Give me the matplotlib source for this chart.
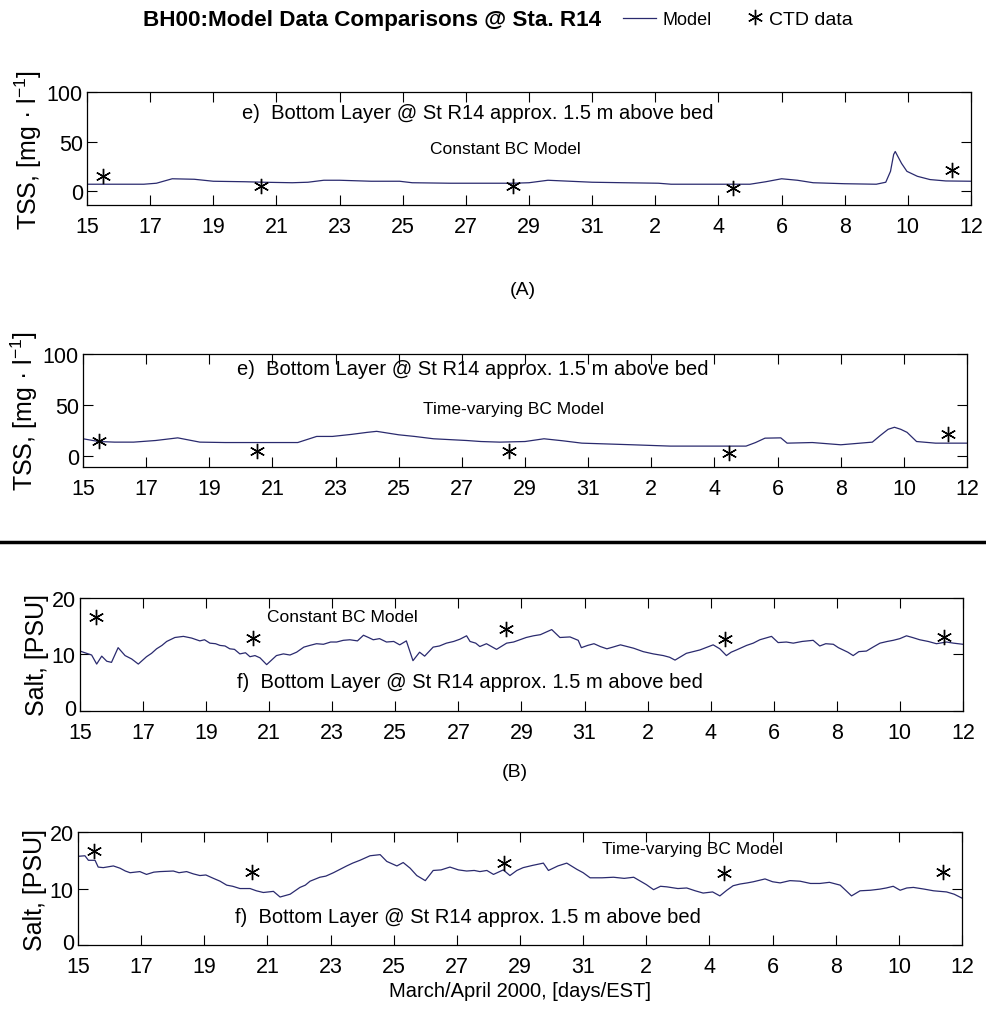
import matplotlib
matplotlib.use("Agg")
import matplotlib.pyplot as plt
from matplotlib.lines import Line2D
from matplotlib.transforms import ScaledTranslation

plt.rcParams["font.family"] = ["Liberation Sans", "DejaVu Sans"]
plt.rcParams["mathtext.default"] = "regular"

# x axis: days since 15 March 2000, labelled with the day of month
day_ticks = list(range(0, 29, 2))
day_labels = ["15", "17", "19", "21", "23", "25", "27", "29", "31",
              "2", "4", "6", "8", "10", "12"]

# CTD casts (same times for TSS and salt)
ctd_t = [0.5, 5.5, 13.5, 20.45, 27.4]
ctd_tss = [15, 5, 5, 3, 21]
ctd_salt = [16.6, 12.9, 14.5, 12.7, 13.0]

# TSS, constant BC model
tss_const_t = [0, 1.8, 2.2, 2.7, 3.4, 4.0, 5.0, 5.6, 6.5, 7.0, 7.5, 8.0, 9.0,
               9.9, 10.3, 11.5, 12.5, 13.5, 14.0, 14.6, 15.3, 16.0, 17.0, 18.1,
               18.5, 20.0, 21.0, 21.5, 22.0, 22.5, 23.0, 24.0, 25.0, 25.3,
               25.45, 25.55, 25.6, 25.7, 25.8, 25.97, 26.3, 26.7, 27.2, 28.0]
tss_const = [7, 7, 8, 12.5, 12, 10, 9.5, 9, 8.5, 9, 11, 11, 10,
             10, 8.5, 8, 8, 8, 8.5, 11, 10, 9, 8.5, 8,
             7, 7, 7, 9.5, 12.5, 11, 8.5, 7.5, 7, 9,
             20, 37, 40, 34, 28, 20, 15, 11.7, 10.3, 10]

# TSS, time-varying BC model
tss_tv_t = [0, 0.5, 1.0, 1.6, 2.3, 3.0, 3.7, 4.5, 6.8, 7.4, 7.9, 8.5, 9.0,
            9.3, 10.0, 10.5, 11.1, 12.15, 12.6, 13.2, 14.0, 14.6, 15.2, 15.8,
            17.4, 18.6, 21.0, 21.3, 21.6, 22.1, 22.3, 23.1, 24.0, 25.0, 25.25,
            25.5, 25.7, 25.9, 26.1, 26.4, 27.0, 28.0]
tss_tv = [16.7, 14, 13.4, 13.4, 15, 17.6, 13.4, 13, 13, 19, 19, 21, 23,
          24, 20.6, 19, 16.7, 15, 14, 13.4, 14, 16.7, 14.7, 12.4,
          10.8, 9.5, 9.5, 13, 17.3, 17.6, 12.4, 13, 10.8, 13.4, 19.9,
          26, 28, 26, 23, 14, 12.4, 12.4]

# salinity, constant BC model
salt_const_t = [0, 0.21, 0.37, 0.53, 0.69, 0.85, 1.0, 1.21, 1.43, 1.64, 1.85,
                2.11, 2.27, 2.43, 2.6, 2.75, 3.01, 3.28, 3.54, 3.8, 3.95, 4.12,
                4.3, 4.44, 4.6, 4.75, 4.9, 5.07, 5.25, 5.39, 5.55, 5.71, 5.92,
                6.23, 6.45, 6.66, 6.87, 7.1, 7.29, 7.5, 7.72, 7.95, 8.14, 8.35,
                8.56, 8.8, 8.99, 9.15, 9.3, 9.5, 9.72, 9.95, 10.14, 10.35,
                10.56, 10.77, 10.93, 11.2, 11.4, 11.62, 11.85, 12.05, 12.26,
                12.37, 12.55, 12.68, 12.89, 13.21, 13.53, 13.75, 13.95, 14.15,
                14.38, 14.6, 14.8, 14.96, 15.22, 15.54, 15.8, 15.9, 16.1, 16.3,
                16.5, 16.71, 16.9, 17.14, 17.35, 17.56, 17.86, 18.18, 18.5,
                18.7, 18.87, 19.05, 19.23, 19.45, 19.66, 19.85, 20.08, 20.29,
                20.5, 20.65, 20.82, 21.14, 21.35, 21.56, 21.75, 21.93, 22.14,
                22.4, 22.62, 22.9, 23.25, 23.46, 23.65, 23.89, 24.05, 24.2,
                24.35, 24.52, 24.7, 24.94, 25.15, 25.37, 25.6, 25.79, 26.0,
                26.21, 26.4, 26.63, 26.9, 27.16, 27.48, 27.7, 28.0]
salt_const = [10.6, 10.2, 9.9, 8.3, 9.7, 8.8, 8.6, 11.2, 9.8, 9.2, 8.3,
              9.6, 10.2, 11.0, 11.6, 12.3, 13.0, 13.2, 12.9, 12.4, 12.6, 12.0,
              11.9, 11.6, 11.5, 11.0, 10.9, 10.1, 10.3, 9.6, 9.8, 9.4, 8.2,
              9.8, 10.1, 9.9, 10.4, 11.3, 11.6, 11.9, 11.8, 12.2, 12.2, 12.5,
              12.6, 12.4, 13.4, 13.0, 12.6, 12.8, 12.2, 12.3, 11.7, 12.4,
              8.9, 10.4, 9.7, 11.3, 11.5, 12.0, 12.3, 12.7, 13.3,
              12.3, 12.0, 11.4, 11.9, 10.9, 12.0, 12.2, 12.6, 13.0,
              13.3, 13.5, 14.0, 14.4, 13.0, 13.1, 12.5, 11.2, 11.6, 11.9,
              11.4, 11.0, 11.3, 11.7, 11.4, 11.1, 10.5, 10.1, 9.8,
              9.5, 9.0, 9.6, 10.2, 10.5, 10.8, 11.2, 11.7, 11.0,
              9.8, 10.4, 10.8, 11.6, 12.0, 12.6, 12.9, 13.2, 12.1,
              12.2, 12.0, 12.3, 12.5, 11.5, 11.9, 11.8, 11.2, 10.8,
              10.4, 9.8, 10.5, 10.6, 11.3, 12.0, 12.3, 12.5, 12.8,
              13.3, 13.0, 12.6, 12.3, 11.9, 12.2, 12.0, 11.8]

# salinity, time-varying BC model
salt_tv_t = [0, 0.22, 0.33, 0.54, 0.64, 0.8, 1.12, 1.33, 1.5, 1.65, 1.96, 2.17,
             2.4, 2.6, 3.02, 3.2, 3.44, 3.65, 3.86, 4.05, 4.29, 4.5, 4.71,
             4.9, 5.13, 5.45, 5.65, 5.87, 6.19, 6.4, 6.72, 7.03, 7.2, 7.35,
             7.66, 7.85, 8.09, 8.3, 8.51, 8.7, 8.93, 9.25, 9.57, 9.78, 10.1,
             10.3, 10.52, 10.73, 11.0, 11.25, 11.5, 11.78, 12.05, 12.31, 12.55,
             12.73, 12.95, 13.16, 13.47, 13.68, 13.9, 14.1, 14.4, 14.74, 14.9,
             15.2, 15.48, 15.8, 16.0, 16.22, 16.6, 16.96, 17.3, 17.6, 18.0,
             18.23, 18.45, 18.65, 19.0, 19.28, 19.55, 19.8, 20.1, 20.33,
             20.55, 20.75, 20.97, 21.2, 21.39, 21.76, 22.0, 22.24, 22.55,
             22.87, 23.2, 23.5, 23.8, 24.14, 24.35, 24.5, 24.77, 25.1, 25.4,
             25.6, 25.82, 26.04, 26.25, 26.46, 26.8, 27.1, 27.51, 27.75, 28.0]
salt_tv = [15.7, 15.8, 15.0, 15.0, 13.8, 13.7, 14.0, 13.6, 13.1, 12.8, 13.0, 12.5,
           12.9, 13.0, 13.1, 12.8, 13.0, 12.6, 12.3, 12.4, 11.8, 11.3, 10.6,
           10.4, 10.0, 10.0, 9.6, 9.3, 9.5, 8.5, 9.0, 10.2, 10.6, 11.3,
           12.0, 12.2, 12.8, 13.4, 14.0, 14.5, 15.0, 15.8, 16.0, 14.8, 14.0,
           14.6, 13.6, 12.3, 11.4, 13.2, 13.3, 13.8, 13.3, 13.1, 13.2,
           13.0, 13.2, 12.5, 13.3, 12.3, 13.2, 13.7, 14.1, 14.5, 13.2,
           14.0, 14.5, 13.4, 12.8, 11.9, 11.9, 12.0, 11.8, 12.0, 10.7,
           9.8, 10.4, 10.3, 10.0, 10.1, 9.6, 9.2, 9.4, 8.7,
           9.7, 10.5, 10.8, 11.0, 11.2, 11.7, 11.2, 11.0, 11.4,
           11.3, 10.9, 10.9, 11.1, 10.6, 9.5, 8.7, 9.6, 9.7, 9.9,
           10.1, 10.4, 9.7, 10.1, 10.2, 9.9, 9.6, 9.4, 9.0, 8.3]

line_color = "#2a2a6e"
asterisk = (6, 2, 0)

fig = plt.figure(figsize=(9.86, 10.2), dpi=100)

panels = [
    # rect, model t, model v, ctd values, ylim, yticks, ylabel, big text pos, small text, small pos
    ((0.0882, 0.798, 0.8966, 0.1108), tss_const_t, tss_const, ctd_tss,
     (-14, 100), [0, 50, 100], "TSS, [mg · l$^{-1}$]",
     "e)  Bottom Layer @ St R14 approx. 1.5 m above bed", (0.175, 0.823),
     "Constant BC Model", (0.388, 0.504)),
    ((0.0842, 0.5412, 0.8966, 0.1108), tss_tv_t, tss_tv, ctd_tss,
     (-11, 100), [0, 50, 100], "TSS, [mg · l$^{-1}$]",
     "e)  Bottom Layer @ St R14 approx. 1.5 m above bed", (0.174, 0.867),
     "Time-varying BC Model", (0.385, 0.513)),
    ((0.0811, 0.302, 0.8955, 0.1108), salt_const_t, salt_const, ctd_salt,
     (0, 20), [0, 10, 20], "Salt, [PSU]",
     "f)  Bottom Layer @ St R14 approx. 1.5 m above bed", (0.178, 0.257),
     "Constant BC Model", (0.212, 0.832)),
    ((0.0791, 0.0725, 0.8966, 0.1108), salt_tv_t, salt_tv, ctd_salt,
     (0, 20), [0, 10, 20], "Salt, [PSU]",
     "f)  Bottom Layer @ St R14 approx. 1.5 m above bed", (0.178, 0.257),
     "Time-varying BC Model", (0.593, 0.85)),
]

axes = []
for (rect, mt, mv, cv, ylim, yticks, ylabel,
     big, big_pos, small, small_pos) in panels:
    ax = fig.add_axes(rect)
    model_line, = ax.plot(mt, mv, color=line_color, lw=0.9)
    ctd_pts, = ax.plot(ctd_t, cv, ls="none", marker=asterisk, ms=11,
                       mew=1.0, color="black")
    ax.set_xlim(0, 28)
    ax.set_ylim(*ylim)
    ax.set_xticks(day_ticks)
    ax.set_xticklabels(day_labels)
    ax.set_yticks(yticks)
    ax.tick_params(direction="in", length=7, width=0.8, top=True, right=True,
                   labelsize=15.5, pad=3)
    ax.tick_params(axis="x", pad=8)
    for s in ax.spines.values():
        s.set_linewidth(0.9)
    ax.set_ylabel(ylabel, fontsize=18, labelpad=2)
    ax.text(big_pos[0], big_pos[1], big, transform=ax.transAxes,
            fontsize=14.5, va="center", ha="left")
    ax.text(small_pos[0], small_pos[1], small, transform=ax.transAxes,
            fontsize=12.5, va="center", ha="left")
    axes.append(ax)

axes[-1].set_xlabel("March/April 2000, [days/EST]", fontsize=14.5, labelpad=3)

# salt axes: lift the "0" label slightly so it clears the first day label
lift = ScaledTranslation(0, 3 / 72, fig.dpi_scale_trans)
for ax in axes[2:]:
    zero = ax.get_yticklabels()[0]
    zero.set_transform(zero.get_transform() + lift)

fig.text(0.145, 0.980, "BH00:Model Data Comparisons @ Sta. R14",
         fontsize=16.2, fontweight="bold", va="center", ha="left")
fig.legend(handles=[model_line], labels=["Model"],
           loc="center left", bbox_to_anchor=(0.632, 0.980),
           frameon=False, fontsize=13, handlelength=1.8,
           handletextpad=0.4, borderpad=0, borderaxespad=0)
fig.legend(handles=[ctd_pts], labels=["CTD data"],
           loc="center left", bbox_to_anchor=(0.760, 0.980),
           frameon=False, fontsize=14, handlelength=0.6,
           handletextpad=0.4, borderpad=0, borderaxespad=0)

fig.text(0.530, 0.715, "(A)", fontsize=14, ha="center", va="center")
fig.text(0.522, 0.243, "(B)", fontsize=14, ha="center", va="center")

# heavy rule between the TSS and salinity groups
fig.add_artist(Line2D([0, 1], [0.468, 0.468], transform=fig.transFigure,
                      color="black", lw=2.5))

fig.savefig("out.png", dpi=100, facecolor="white")
